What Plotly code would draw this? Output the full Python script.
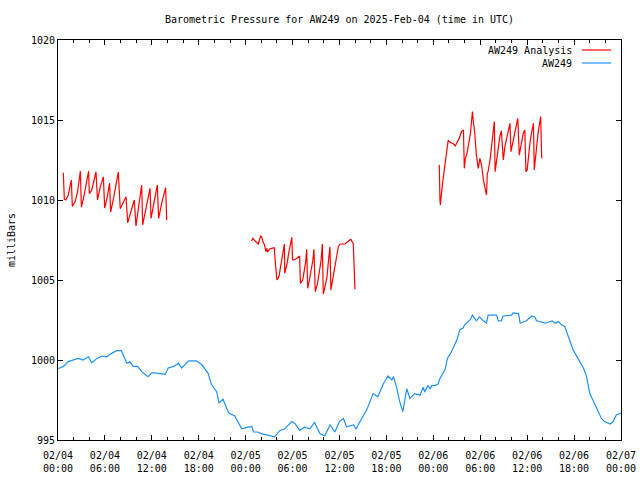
import pandas as pd
import plotly.graph_objects as go

BASE = pd.Timestamp("2025-02-04 00:00")

# ---- AW249 observations (hours since 2025-02-04 00:00 UTC, mb) ----
obs_hours = [0.0, 0.26, 0.7, 1.3, 2.0, 2.6, 3.2, 3.9, 4.3, 5.0, 5.6, 6.2, 6.8, 7.5, 8.1, 8.35,
             8.8, 9.2, 9.6, 10.2, 10.7, 11.5, 12.0, 12.4, 13.0, 13.7, 14.1, 14.8, 15.4, 15.8,
             16.2, 16.7, 17.7, 18.4, 19.2, 19.6, 20.3, 20.6, 21.1, 21.8, 22.6, 23.5, 24.3,
             24.8, 25.0, 25.5, 26.0, 26.9, 27.7, 28.4, 29.0, 29.9, 30.3, 30.9, 31.5, 32.2,
             32.8, 33.5, 34.1, 34.8, 35.4, 36.0, 36.5, 36.9, 37.8, 38.1, 38.6, 39.5, 40.3,
             40.9, 41.6, 42.2, 42.7, 42.9, 43.3, 43.7, 44.1, 44.6, 45.0, 45.6, 46.3, 46.7,
             46.9, 47.3, 47.6, 47.8, 48.2, 48.6, 48.85, 49.5, 49.8, 50.3, 51.0, 51.4, 51.8,
             52.0, 52.7, 53.0, 53.5, 53.9, 54.4, 54.8, 55.0, 56.1, 56.3, 56.7, 56.9, 58.0,
             58.2, 58.9, 59.1, 59.9, 60.6, 61.0, 61.2, 62.3, 63.2, 63.6, 64.0, 64.4, 64.8,
             65.3, 65.9, 66.5, 66.9, 67.2, 67.6, 68.0, 68.4, 68.9, 69.5, 69.9, 70.6, 71.0,
             71.4, 71.9, 72.0]
obs_mb = [999.45, 999.5, 999.6, 999.9, 1000.0, 1000.1, 1000.0, 1000.2, 999.83, 1000.1, 1000.25,
          1000.2, 1000.4, 1000.58, 1000.58, 1000.3, 999.8, 999.9, 999.6, 999.6, 999.27, 998.96,
          999.2, 999.2, 999.15, 999.1, 999.5, 999.6, 999.8, 999.5, 999.7, 999.95, 999.95, 999.7,
          999.17, 998.5, 998.0, 997.3, 997.56, 996.7, 996.5, 995.7, 995.8, 995.83, 995.5, 995.5,
          995.4, 995.3, 995.2, 995.6, 995.7, 996.15, 996.04, 995.6, 995.8, 995.7, 996.1, 995.4,
          995.25, 995.94, 995.5, 996.15, 996.35, 995.83, 995.94, 995.7, 996.15, 996.9, 997.9,
          997.7, 998.5, 999.0, 998.75, 998.96, 998.3, 997.4, 996.77, 998.2, 997.6, 997.9, 997.8,
          998.3, 998.0, 998.4, 998.2, 998.4, 998.4, 998.5, 998.85, 999.4, 1000.1, 1000.5,
          1001.25, 1001.9, 1002.0, 1002.2, 1002.5, 1002.8, 1002.45, 1002.7, 1002.45, 1002.3,
          1002.8, 1002.8, 1002.45, 1002.45, 1002.75, 1002.8, 1002.95, 1002.9, 1002.3, 1002.45,
          1002.75, 1002.67, 1002.45, 1002.3, 1002.45, 1002.3, 1002.4, 1002.2, 1002.1, 1001.46,
          1000.6, 1000.1, 999.8, 999.5, 998.96, 997.9, 997.5, 997.0, 996.35, 996.15, 996.0,
          996.15, 996.56, 996.67, 996.7]

# ---- AW249 Analysis, three separate runs ----
ana1_hours = [0.68, 0.75, 0.81, 1.0, 1.3, 1.71, 1.83, 2.2, 2.5, 2.86, 2.99, 3.3, 3.6, 3.92, 4.0,
              4.3, 4.86, 5.05, 5.4, 5.8, 5.97, 6.3, 6.6, 6.73, 7.1, 7.4, 7.71, 7.96, 8.3, 8.7,
              8.91, 9.3, 9.76, 9.97, 10.3, 10.7, 10.83, 11.3, 11.77, 11.9, 12.3, 12.7, 12.87,
              13.3, 13.77, 13.82, 13.9]
ana1_mb = [1011.7, 1010.9, 1010.05, 1010.0, 1010.3, 1011.25, 1009.6, 1009.9, 1010.5, 1011.8,
           1009.55, 1010.2, 1011.0, 1011.8, 1010.4, 1010.6, 1011.75, 1010.0, 1010.8, 1011.45,
           1009.5, 1010.2, 1011.05, 1009.25, 1010.1, 1011.0, 1011.75, 1009.45, 1009.8, 1010.2,
           1008.58, 1009.2, 1010.0, 1008.38, 1009.5, 1010.94, 1008.44, 1009.6, 1010.73, 1008.85,
           1009.8, 1010.94, 1008.85, 1009.9, 1010.77, 1009.6, 1008.75]

ana2_hours = [24.77, 24.9, 25.2, 25.6, 25.92, 26.05, 26.2, 26.4, 26.6, 26.7, 26.8, 27.05, 27.3,
              27.66, 27.8, 28.0, 28.25, 28.5, 28.75, 28.95, 29.0, 29.3, 29.5, 29.75, 29.9, 30.0,
              30.15, 30.5, 30.9, 31.0, 31.3, 31.5, 31.7, 31.8, 31.93, 32.15, 32.4, 32.6, 32.73,
              32.9, 33.2, 33.5, 33.65, 33.8, 33.93, 34.15, 34.4, 34.6, 34.78, 34.9, 35.2, 35.4,
              35.65, 35.85, 36.06, 36.7, 37.3, 37.45, 37.6, 37.76, 37.98]
ana2_mb = [1007.44, 1007.6, 1007.45, 1007.25, 1007.75, 1007.7, 1007.4, 1007.2, 1006.77, 1006.97,
           1006.75, 1006.94, 1006.98, 1007.02, 1006.04, 1005.0, 1005.2, 1006.0, 1006.7, 1007.25,
           1005.42, 1006.04, 1006.67, 1007.4, 1007.67, 1006.25, 1006.25, 1006.35, 1006.5,
           1004.79, 1005.0, 1005.6, 1006.25, 1006.92, 1004.48, 1005.0, 1005.6, 1006.25, 1006.92,
           1004.27, 1004.8, 1005.6, 1006.25, 1007.25, 1004.12, 1004.6, 1005.2, 1006.25, 1007.08,
           1004.38, 1005.2, 1005.83, 1006.67, 1007.08, 1007.25, 1007.25, 1007.5, 1007.54,
           1007.4, 1007.29, 1004.42]

ana3_hours = [48.76, 48.77, 48.85, 48.9, 49.0, 49.2, 49.35, 49.55, 49.9, 50.0, 50.3, 50.6, 50.8,
              51.0, 51.3, 51.6, 51.85, 51.96, 52.1, 52.3, 52.5, 52.75, 52.9, 53.0, 53.1, 53.3,
              53.5, 53.75, 53.95, 54.2, 54.4, 54.6, 54.8, 54.9, 55.0, 55.25, 55.45, 55.7, 55.8,
              55.9, 56.1, 56.3, 56.5, 56.7, 56.95, 57.15, 57.4, 57.6, 57.8, 57.93, 58.25, 58.45,
              58.65, 58.8, 58.99, 59.15, 59.35, 59.5, 59.7, 59.84, 60.0, 60.15, 60.35, 60.55,
              60.8, 60.91, 61.15, 61.3, 61.45, 61.73, 61.85, 61.93]
ana3_mb = [1012.19, 1011.04, 1010.0, 1009.69, 1010.4, 1011.15, 1011.7, 1012.5, 1013.75, 1013.65,
           1013.58, 1013.5, 1013.38, 1013.55, 1013.85, 1014.27, 1014.38, 1011.98, 1012.6,
           1012.9, 1013.55, 1014.17, 1015.0, 1015.52, 1015.0, 1014.17, 1012.8, 1011.98, 1012.6,
           1012.1, 1011.25, 1010.85, 1010.31, 1011.67, 1011.77, 1012.5, 1013.54, 1014.58,
           1014.9, 1011.77, 1012.6, 1013.33, 1013.96, 1014.33, 1012.5, 1013.33, 1013.96,
           1014.48, 1014.79, 1013.02, 1013.75, 1014.17, 1014.58, 1015.1, 1012.81, 1013.33,
           1013.75, 1014.17, 1014.38, 1011.77, 1011.88, 1012.71, 1013.54, 1014.17, 1014.79,
           1011.88, 1013.33, 1013.75, 1014.38, 1015.21, 1012.71, 1012.6]

y_ticks = [995, 1000, 1005, 1010, 1015, 1020]
title_text = "Barometric Pressure for AW249 on 2025-Feb-04 (time in UTC)"
legend_names = ["AW249 Analysis", "AW249"]

RED = "#ff0000"
BLUE = "#1e90ff"
FONT = "DejaVu Sans Mono"


def to_time(hours):
    return [BASE + pd.Timedelta(hours=h) for h in hours]


ana_x, ana_y = [], []
for hs, vs in [(ana1_hours, ana1_mb), (ana2_hours, ana2_mb), (ana3_hours, ana3_mb)]:
    ana_x += to_time(hs) + [None]
    ana_y += list(vs) + [None]

fig = go.Figure()
fig.add_trace(go.Scatter(x=to_time(obs_hours), y=obs_mb, mode="lines",
                         line=dict(color=BLUE, width=1.2), name=legend_names[1],
                         showlegend=False))
fig.add_trace(go.Scatter(x=ana_x, y=ana_y, mode="lines", connectgaps=False,
                         line=dict(color=RED, width=1.2), name=legend_names[0],
                         showlegend=False))

# gnuplot-style legend: text right-aligned, line sample to its right
for name, color, ypx in [(legend_names[0], RED, 50), (legend_names[1], BLUE, 63)]:
    yp = (440 - ypx) / 400
    fig.add_annotation(x=(574 - 58) / 563, y=yp, xref="paper", yref="paper", text=name,
                       showarrow=False, xanchor="right", yanchor="middle",
                       font=dict(family=FONT, size=10, color="black"))
    fig.add_shape(type="line", xref="paper", yref="paper",
                  x0=(582 - 58) / 563, x1=(611 - 58) / 563, y0=yp, y1=yp,
                  line=dict(color=color, width=1.2))

fig.update_layout(
    width=640, height=480,
    margin=dict(l=58, r=19, t=40, b=40),
    paper_bgcolor="white", plot_bgcolor="white",
    font=dict(family=FONT, size=10, color="black"),
    title=dict(text=title_text, x=339.5 / 640, xanchor="center",
               y=1 - 19 / 480, yanchor="middle", yref="container",
               font=dict(family=FONT, size=10, color="black")),
    showlegend=False,
)
fig.update_xaxes(
    type="date",
    range=[BASE, BASE + pd.Timedelta(hours=72)],
    tickmode="linear", tick0=BASE, dtick=6 * 3600 * 1000,
    tickformat="%m/%d<br>%H:%M",
    ticks="inside", ticklen=5, tickcolor="black", tickwidth=1,
    minor=dict(dtick=2 * 3600 * 1000, ticks="inside", ticklen=3, tickcolor="black"),
    showline=True, linecolor="black", linewidth=1, mirror="ticks",
    showgrid=False, zeroline=False, automargin=False,
    ticklabelstandoff=6,
    tickfont=dict(family=FONT, size=10, color="black"),
)
fig.update_yaxes(
    range=[995, 1020], tickmode="array", tickvals=y_ticks,
    ticktext=[str(v) for v in y_ticks],
    ticks="inside", ticklen=5, tickcolor="black", tickwidth=1,
    showline=True, linecolor="black", linewidth=1, mirror="ticks",
    showgrid=False, zeroline=False, automargin=False,
    title=dict(text="milliBars", standoff=13, font=dict(family=FONT, size=10, color="black")),
    tickfont=dict(family=FONT, size=10, color="black"),
)

fig.write_html("out.html", config={"displayModeBar": False},
               post_script="document.body.style.margin='0px';")
